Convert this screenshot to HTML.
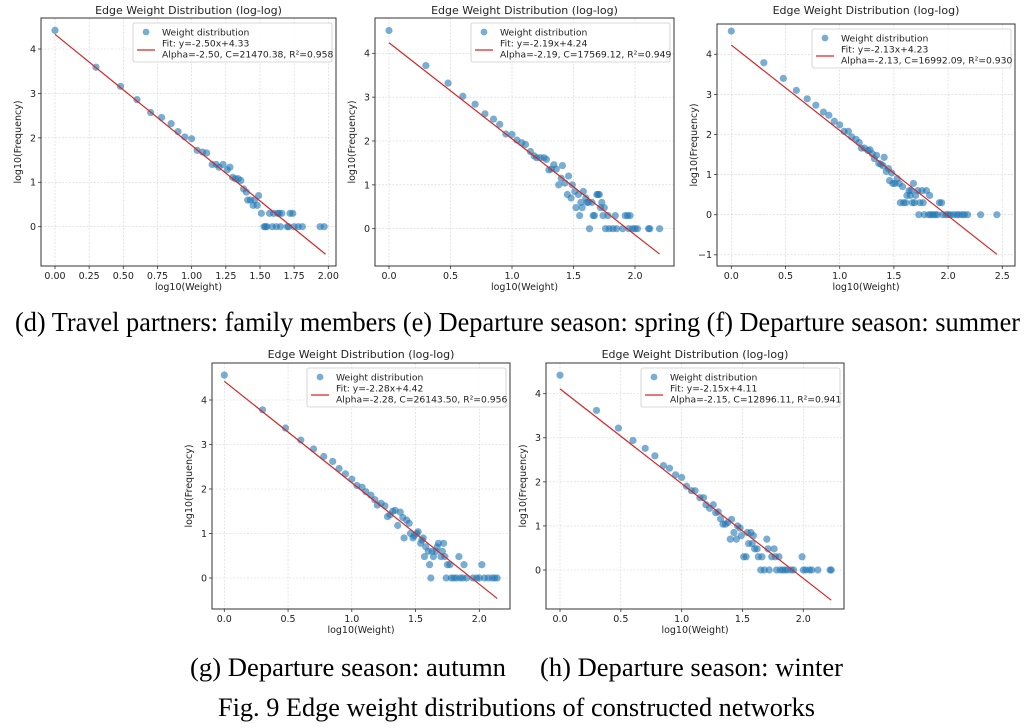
<!DOCTYPE html>
<html><head><meta charset="utf-8">
<style>
html,body{margin:0;padding:0;background:#fff;}
svg{display:block;font-family:"DejaVu Sans","Liberation Sans",sans-serif;}
.cap{font-family:"Liberation Serif",serif;fill:#000;}
</style></head>
<body>
<svg id="fig" width="1034" height="728" viewBox="0 0 1034 728" xmlns="http://www.w3.org/2000/svg">
<text class="cap" x="15" y="331" font-size="27" textLength="1005" lengthAdjust="spacingAndGlyphs">(d) Travel partners: family members (e) Departure season: spring (f) Departure season: summer</text>
<text class="cap" x="190" y="676" font-size="26" textLength="316" lengthAdjust="spacingAndGlyphs">(g) Departure season: autumn</text>
<text class="cap" x="540" y="676" font-size="26" textLength="303" lengthAdjust="spacingAndGlyphs">(h) Departure season: winter</text>
<text class="cap" x="218" y="716" font-size="26" textLength="597" lengthAdjust="spacingAndGlyphs">Fig. 9 Edge weight distributions of constructed networks</text>
</svg>
<script>
// ---- data ----
const xs_d=[0,0.30,0.48,0.60,0.70,0.78,0.85,0.90,0.95,1.00,1.04,1.08,1.11,1.15,1.18,1.20,1.23,1.26,1.28,1.30,1.32,1.34,1.36,1.38,1.40,1.41,1.43,1.45,1.46,1.48,1.49,1.51,1.53,1.54,1.55,1.57,1.59,1.60,1.62,1.63,1.64,1.66,1.65,1.70,1.71,1.72,1.74,1.75,1.78,1.81,1.94,1.97];
const ys_d=[4.42,3.59,3.16,2.86,2.57,2.46,2.32,2.14,2.02,1.98,1.72,1.68,1.66,1.40,1.40,1.34,1.40,1.28,1.34,1.11,1.08,1.08,1.04,0.85,0.78,0.60,0.60,0.48,0.60,0.48,0.70,0.30,0,0,0,0.30,0,0.30,0,0.30,0.30,0.30,0,0,0,0.30,0.30,0,0,0,0,0];
const fit_d=[-2.50,4.33,1.98];
const xs_e=[0,0.30,0.48,0.60,0.70,0.78,0.85,0.90,0.95,1.00,1.04,1.08,1.11,1.15,1.18,1.20,1.23,1.26,1.28,1.30,1.32,1.34,1.36,1.38,1.40,1.41,1.43,1.45,1.46,1.48,1.49,1.51,1.52,1.54,1.55,1.56,1.57,1.58,1.60,1.61,1.62,1.63,1.65,1.66,1.67,1.69,1.70,1.71,1.72,1.73,1.74,1.75,1.76,1.78,1.79,1.82,1.84,1.85,1.90,1.92,1.94,1.96,1.95,1.98,2.00,2.02,2.11,2.12,2.20];
const ys_e=[4.52,3.72,3.32,3.02,2.84,2.62,2.50,2.38,2.16,2.15,2.02,1.96,1.92,1.76,1.66,1.62,1.62,1.62,1.58,1.34,1.36,1.46,1.36,1.00,1.15,1.44,1.04,0.78,1.20,0.70,1.00,0.85,0.48,0.78,0.30,0.60,0.48,0.85,0.70,0.60,0.60,0,0.60,0.30,0.30,0.78,0.78,0.78,0.48,0.60,0.30,0.48,0,0.30,0,0,0.30,0,0,0.30,0.30,0.30,0,0,0,0,0,0,0];
const fit_e=[-2.19,4.24,2.20];
const xs_f=[0,0.30,0.48,0.60,0.70,0.78,0.85,0.90,0.95,1.00,1.04,1.08,1.11,1.15,1.18,1.20,1.23,1.26,1.28,1.30,1.32,1.34,1.36,1.38,1.40,1.41,1.43,1.45,1.46,1.48,1.49,1.51,1.53,1.55,1.56,1.58,1.59,1.61,1.62,1.64,1.65,1.66,1.67,1.68,1.69,1.70,1.72,1.73,1.74,1.76,1.77,1.78,1.80,1.82,1.83,1.84,1.86,1.88,1.90,1.92,1.94,1.95,1.98,2.00,2.02,2.05,2.08,2.10,2.13,2.15,2.18,2.30,2.45];
const ys_f=[4.58,3.79,3.40,3.10,2.89,2.73,2.56,2.48,2.33,2.24,2.08,2.08,1.94,1.88,1.80,1.66,1.66,1.60,1.62,1.52,1.40,1.48,1.28,1.26,1.22,1.43,1.08,1.15,0.85,1.04,0.78,0.78,0.90,0.78,0.30,0.70,0.30,0.30,0.48,0.60,0.48,0.60,0.30,0.78,0.30,0.48,0.60,0,0.30,0.60,0.30,0,0.60,0,0.48,0,0,0,0,0.30,0.30,0,0,0,0,0,0,0,0,0,0,0,0];
const fit_f=[-2.13,4.23,2.45];
const xs_g=[0,0.30,0.48,0.60,0.70,0.78,0.85,0.90,0.95,1.00,1.04,1.08,1.11,1.15,1.18,1.20,1.23,1.26,1.28,1.30,1.32,1.34,1.36,1.38,1.40,1.41,1.43,1.45,1.46,1.48,1.49,1.51,1.52,1.54,1.55,1.56,1.57,1.58,1.60,1.61,1.62,1.63,1.64,1.66,1.67,1.68,1.70,1.71,1.72,1.73,1.74,1.75,1.77,1.78,1.80,1.82,1.84,1.85,1.87,1.88,1.90,1.95,1.98,2.00,2.02,2.04,2.07,2.10,2.12,2.14];
const ys_g=[4.56,3.78,3.37,3.10,2.90,2.73,2.62,2.46,2.34,2.22,2.08,2.04,1.94,1.86,1.76,1.64,1.68,1.62,1.38,1.42,1.50,1.52,1.18,1.48,1.36,0.90,1.30,1.23,1.00,0.90,0.95,1.00,1.04,0.78,0.85,0.90,0.48,0.70,0.60,0.30,0,0.60,0.48,0.60,0.70,0.78,0.48,0.60,0.78,0.48,0,0.30,0.30,0,0,0,0.48,0,0,0.30,0,0,0,0,0.30,0,0,0,0,0];
const fit_g=[-2.28,4.42,2.14];
const xs_h=[0,0.30,0.48,0.60,0.70,0.78,0.85,0.90,0.95,1.00,1.04,1.08,1.11,1.15,1.18,1.20,1.23,1.26,1.28,1.30,1.32,1.34,1.36,1.38,1.40,1.41,1.43,1.45,1.46,1.48,1.49,1.51,1.53,1.54,1.55,1.57,1.58,1.59,1.60,1.62,1.63,1.65,1.66,1.68,1.70,1.71,1.72,1.74,1.76,1.77,1.78,1.80,1.81,1.83,1.85,1.87,1.90,1.92,1.99,2.00,2.02,2.05,2.07,2.12,2.22,2.23];
const ys_h=[4.42,3.62,3.22,2.94,2.76,2.59,2.37,2.31,2.16,2.10,1.90,1.80,1.80,1.64,1.64,1.48,1.40,1.48,1.30,1.32,1.16,1.04,1.04,1.08,0.70,1.15,0.85,0.70,1.00,0.95,0.78,0.30,0.30,0.85,0.60,0.85,0.60,0.78,0.48,0.48,0.30,0,0.30,0,0.70,0.48,0,0.30,0.48,0.30,0,0.30,0,0,0,0,0,0,0.30,0,0,0,0,0,0,0];
const fit_h=[-2.15,4.11,2.23];
const xticks_d=["0.00","0.25","0.50","0.75","1.00","1.25","1.50","1.75","2.00"];
const xticks_e=["0.0","0.5","1.0","1.5","2.0"];
const xticks_f=["0.0","0.5","1.0","1.5","2.0","2.5"];
const yticks_a=[0,1,2,3,4];
const yticks_f=[-1,0,1,2,3,4];
const alphaC_d="Alpha=-2.50, C=21470.38, R²=0.958";
const alphaC_e="Alpha=-2.19, C=17569.12, R²=0.949";
const alphaC_f="Alpha=-2.13, C=16992.09, R²=0.930";
const alphaC_g="Alpha=-2.28, C=26143.50, R²=0.956";
const alphaC_h="Alpha=-2.15, C=12896.11, R²=0.941";

// ---- layout ----
const NS="http://www.w3.org/2000/svg";
const svg=document.getElementById('fig');
function el(tag,attrs,parent){const e=document.createElementNS(NS,tag);for(const k in attrs)e.setAttribute(k,attrs[k]);(parent||svg).appendChild(e);return e;}
const panels=[
 {id:'d',box:[41,18,336,266],xa:[0,55,2,328.3],ya:[0,226.7,4,49],xt:xticks_d,yt:yticks_a,xs:xs_d,ys:ys_d,fit:fit_d,ac:alphaC_d,ty:14},
 {id:'e',box:[375,18,674,266],xa:[0,389,2,635],ya:[0,228.7,4,53.3],xt:xticks_e,yt:yticks_a,xs:xs_e,ys:ys_e,fit:fit_e,ac:alphaC_e,ty:14},
 {id:'f',box:[717,24,1015,266],xa:[0,731.3,2.5,1002.3],ya:[0,214.7,4,54.3],xt:xticks_f,yt:yticks_f,xs:xs_f,ys:ys_f,fit:fit_f,ac:alphaC_f,ty:14},
 {id:'g',box:[212,363,510,609],xa:[0,224.3,2,479.3],ya:[0,578,4,400],xt:xticks_e,yt:yticks_a,xs:xs_g,ys:ys_g,fit:fit_g,ac:alphaC_g,ty:358},
 {id:'h',box:[546,363,844,609],xa:[0,560,2,803.3],ya:[0,570,4,393.7],xt:xticks_e,yt:yticks_a,xs:xs_h,ys:ys_h,fit:fit_h,ac:alphaC_h,ty:358}
];
panels.forEach(p=>{
 const [l,t,r,b]=p.box;
 const X=v=>p.xa[1]+(v-p.xa[0])*(p.xa[3]-p.xa[1])/(p.xa[2]-p.xa[0]);
 const Y=v=>p.ya[1]+(v-p.ya[0])*(p.ya[3]-p.ya[1])/(p.ya[2]-p.ya[0]);
 const g=el('g',{});
 
 
 const gx=el('g',{},g);
 
 
 p.xt.forEach(s=>{const x=X(parseFloat(s));
  el('line',{x1:x,x2:x,y1:t,y2:b,stroke:'#d4d4d4','stroke-width':0.6,'stroke-dasharray':'2,1.5'},gx);
  el('line',{x1:x,x2:x,y1:b,y2:b+3,stroke:'#333','stroke-width':0.8},gx);
  const tx=el('text',{x:x,y:b+13,'font-size':9.5,'text-anchor':'middle',fill:'#222'},gx);tx.textContent=s;
  
  
 });
 const gy=el('g',{},g);
 
 
 p.yt.forEach(v=>{const y=Y(v);
  el('line',{x1:l,x2:r,y1:y,y2:y,stroke:'#d4d4d4','stroke-width':0.6,'stroke-dasharray':'2,1.5'},gy);
  el('line',{x1:l-3,x2:l,y1:y,y2:y,stroke:'#333','stroke-width':0.8},gy);
  const tx=el('text',{x:l-5,y:y+3.4,'font-size':9.5,'text-anchor':'end',fill:'#222'},gy);tx.textContent=(v<0?'\u2212'+(-v):String(v));
  
  
 });
 el('rect',{x:l,y:t,width:r-l,height:b-t,fill:'none',stroke:'#333','stroke-width':1},g);
 const title=el('text',{x:(l+r)/2,y:p.ty,'font-size':11,'text-anchor':'middle',fill:'#222'},g);title.textContent='Edge Weight Distribution (log-log)';
 
 
 const xl=el('text',{x:(l+r)/2,y:b+24,'font-size':9.5,'text-anchor':'middle',fill:'#222'},g);xl.textContent='log10(Weight)';
 
 
 const yc=(t+b)/2, yx=l-20;
 const yl=el('text',{x:yx,y:yc,'font-size':9.5,'text-anchor':'middle',fill:'#222',transform:`rotate(-90 ${yx} ${yc})`},g);yl.textContent='log10(Frequency)';
 
 
 const pts=el('g',{},g);
 
 
 p.xs.forEach((xv,i)=>{const c=el('circle',{cx:X(xv),cy:Y(p.ys[i]),r:3.6,fill:'#1f77b4','fill-opacity':0.6},pts);
  
  
 });
 const [m,c0,xe]=p.fit;
 const fl=el('line',{x1:X(0),y1:Y(c0),x2:X(xe),y2:Y(c0+m*xe),stroke:'#d62728','stroke-width':1.2},g);
 
 
 const lw=199, lx=r-lw-4, ly=t+5;
 const lg=el('g',{},g);
 
 
 el('rect',{x:lx,y:ly,width:lw,height:39,rx:2,fill:'#fff','fill-opacity':0.85,stroke:'#ccc','stroke-width':0.8},lg);
 el('circle',{cx:lx+13,cy:ly+9,r:3.4,fill:'#1f77b4','fill-opacity':0.6},lg);
 const t1=el('text',{x:lx+29,y:ly+12.5,'font-size':9.2,fill:'#222'},lg);t1.textContent='Weight distribution';
 el('line',{x1:lx+4,x2:lx+22,y1:ly+27,y2:ly+27,stroke:'#d62728','stroke-width':1.3},lg);
 const t2=el('text',{x:lx+29,y:ly+23.5,'font-size':9.2,fill:'#222'},lg);t2.textContent=`Fit: y=${m.toFixed(2)}x+${c0.toFixed(2)}`;
 const t3=el('text',{x:lx+29,y:ly+34.5,'font-size':9.2,fill:'#222'},lg);t3.textContent=p.ac;
});
</script>
</body></html>
